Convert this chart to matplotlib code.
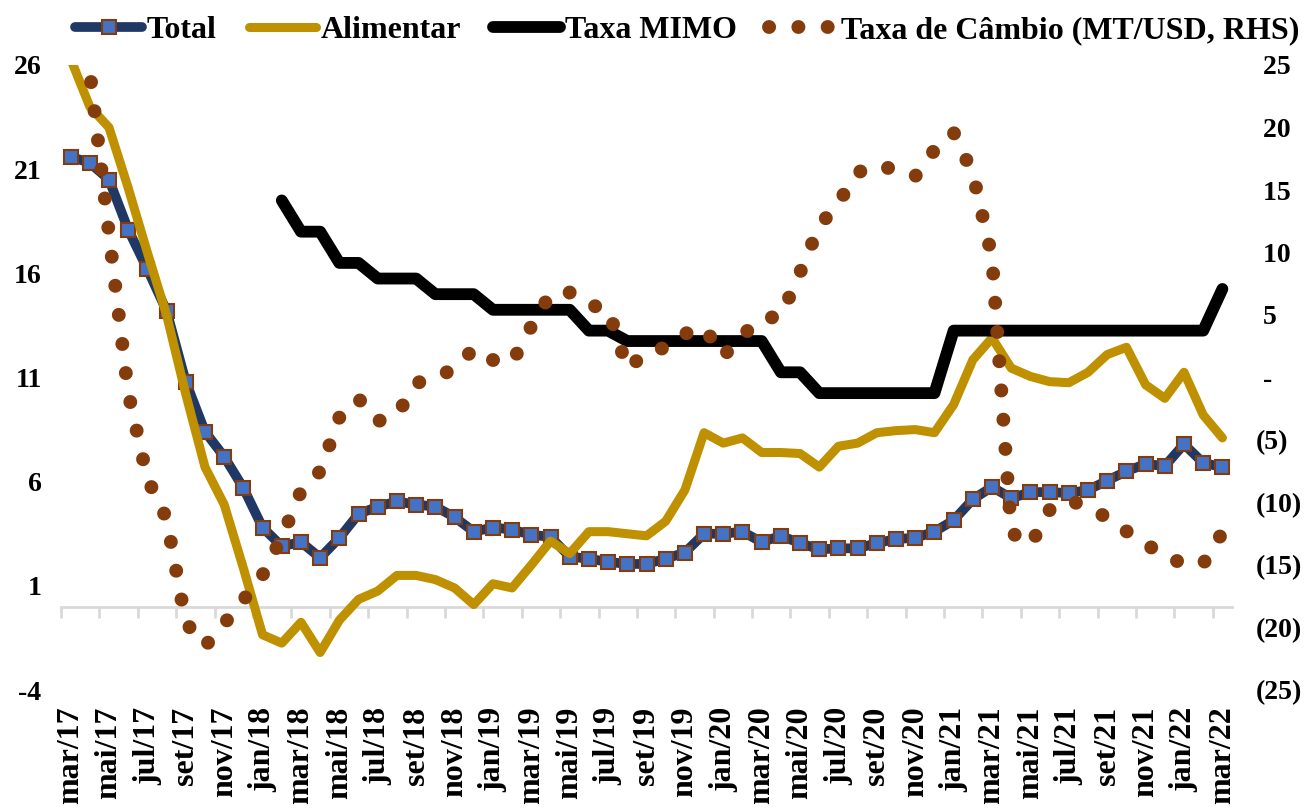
import matplotlib
matplotlib.use("Agg")
import matplotlib.pyplot as plt
import numpy as np

# month labels mar/17 .. mar/22
meses = ["jan", "fev", "mar", "abr", "mai", "jun", "jul", "ago", "set", "out", "nov", "dez"]
categorias = []
for k in range(61):
    categorias.append(f"{meses[(2 + k) % 12]}/{17 + (2 + k) // 12}")

# inflation, % yoy (left axis)
total = [21.6, 21.3, 20.5, 18.1, 16.2, 14.2, 10.8, 8.4, 7.2, 5.7, 3.8, 2.9, 3.1, 2.35,
         3.3, 4.45, 4.8, 5.05, 4.9, 4.8, 4.3, 3.6, 3.8, 3.7, 3.45, 3.35, 2.4, 2.3, 2.15,
         2.05, 2.05, 2.3, 2.6, 3.5, 3.5, 3.6, 3.1, 3.4, 3.05, 2.75, 2.8, 2.8, 3.05, 3.25,
         3.3, 3.6, 4.15, 5.15, 5.75, 5.2, 5.5, 5.5, 5.45, 5.6, 6.05, 6.5, 6.85, 6.75, 7.8,
         6.9, 6.7]
alimentar = [26.3, 24.0, 23.0, 20.1, 17.0, 14.0, 10.2, 6.7, 4.9, 1.85, -1.35, -1.75, -0.75,
             -2.2, -0.65, 0.35, 0.75, 1.5, 1.5, 1.3, 0.9, 0.1, 1.1, 0.9, 2.0, 3.15, 2.55,
             3.6, 3.6, 3.5, 3.4, 4.1, 5.6, 8.35, 7.85, 8.1, 7.4, 7.4, 7.35, 6.7, 7.7, 7.85,
             8.35, 8.45, 8.5, 8.35, 9.7, 11.85, 12.9, 11.45, 11.05, 10.8, 10.75, 11.25,
             12.1, 12.45, 10.65, 10.0, 11.25, 9.2, 8.1]
# policy rate (left axis), starts fev/18
mimo = ([np.nan] * 11 + [19.5, 18, 18, 16.5, 16.5, 15.75, 15.75, 15.75, 15, 15, 15]
        + [14.25] * 5 + [13.25] * 2 + [12.75] * 8 + [11.25] * 2 + [10.25] * 7
        + [13.25] * 14 + [15.25])
# exchange rate MT/USD, % yoy (right axis)
cambio = [28.0, 24.5, 11.5, -1.2, -8.1, -11.3, -19.6, -21.5, -19.7, -17.8, -15.8, -12.8,
          -9.1, -7.5, -3.2, -1.7, -3.5, -3.0, -0.45, 0.0, 0.7, 2.3, 1.4, 1.2, 4.1, 6.7,
          6.8, 5.8, 5.5, 0.7, 2.0, 2.4, 3.5, 4.0, 1.7, 3.4, 4.7, 4.9, 8.4, 12.1, 14.0,
          16.4, 17.0, 16.6, 16.1, 18.2, 19.6, 16.3, 9.6, -12.4, -13.4, -10.6, -9.8,
          -10.4, -11.2, -12.3, -13.3, -14.3, -14.9, -14.9, -12.4]

left_ticks = [-4, 1, 6, 11, 16, 21, 26]
right_ticks = [-25, -20, -15, -10, -5, 0, 5, 10, 15, 20, 25]
right_labels = ["(25)", "(20)", "(15)", "(10)", "(5)", " -", " 5", " 10", " 15", " 20", " 25"]

plt.rcParams['font.family'] = ['Liberation Serif', 'DejaVu Serif']
plt.rcParams['font.weight'] = 'bold'

fig = plt.figure(figsize=(13.04, 8.10), dpi=100)
ax = fig.add_axes([61 / 1304, 120 / 810, 1171 / 1304, 625 / 810])
x = np.arange(len(categorias))

ax.plot(x, total, color='#1F3864', lw=7, marker='s', ms=10, mfc='#4472C4',
        mec='#843C0C', mew=1.5, label='Total', zorder=2, solid_joinstyle='round',
        solid_capstyle='round')
ax.plot(x, alimentar, color='#BF9000', lw=6.5, label='Alimentar', zorder=2.1,
        solid_joinstyle='round', solid_capstyle='round')
ax.plot(x, mimo, color='black', lw=8.5, label='Taxa MIMO', zorder=2.2,
        solid_joinstyle='round', solid_capstyle='round')

ax.set_xlim(-0.5, 60.5)
ax.set_ylim(-4, 26)
for s in ax.spines.values():
    s.set_visible(False)

ax.set_xticks(x[::2])
ax.set_xticklabels(categorias[::2], rotation=90, fontsize=23, fontweight='bold')
ax.tick_params(axis='x', length=0, pad=12)
ax.set_yticks(left_ticks)
ax.set_yticklabels([str(v) for v in left_ticks], fontsize=20, fontweight='bold')
ax.tick_params(axis='y', length=0, pad=14)

# horizontal axis line at zero with tick marks between categories
sec = ax.secondary_xaxis(4 / 30)
sec.set_xticks(np.arange(-0.5, 60, 2))
sec.tick_params(axis='x', length=8, width=2, color='#D9D9D9', labelbottom=False,
                direction='out')
sec.spines['bottom'].set_color('#D9D9D9')
sec.spines['bottom'].set_linewidth(2)

ax2 = ax.twinx()
ax2.plot(x, cambio, color='#843C0C', lw=10, linestyle=(0, (0.01, 2.1)),
         dash_capstyle='round', label='Taxa de Câmbio (MT/USD, RHS)')
ax2.set_ylim(-25, 25)
for s in ax2.spines.values():
    s.set_visible(False)
ax2.set_yticks(right_ticks)
ax2.set_yticklabels(right_labels, fontsize=20, fontweight='bold')
ax2.tick_params(axis='y', length=0, pad=17)

h1, l1 = ax.get_legend_handles_labels()
h2, l2 = ax2.get_legend_handles_labels()
fig.legend(h1 + h2, l1 + l2, loc='center', bbox_to_anchor=(0.527, 0.962), ncol=4,
           frameon=False, prop={'size': 23, 'weight': 'bold'}, handlelength=2.1,
           handletextpad=0.15, columnspacing=1.0)

fig.savefig('out.png', dpi=100)
